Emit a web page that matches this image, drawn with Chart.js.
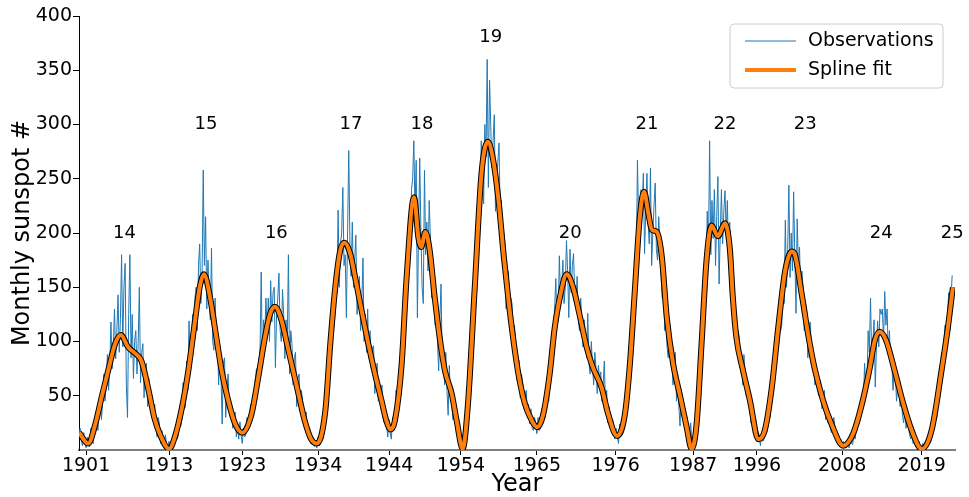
<!DOCTYPE html>
<html>
<head>
<meta charset="utf-8">
<script src="https://cdn.jsdelivr.net/npm/chart.js@4.4.0/dist/chart.umd.min.js"></script>
<style>
  html, body { margin: 0; padding: 0; background: #fff; }
  #wrap { width: 969px; height: 497px; position: relative; }
</style>
</head>
<body>
<div id="wrap"><canvas id="sunspotChart"></canvas></div>
<script>
// Monthly sunspot observations (6 values per year, starting 1900.0)
const obsStartYear = 1900;
const obsPerYear = 6;
const observations = [
  // 1900s
  18, 8, 26, 14, 20, 9,   4, 16, 8, 2, 12, 6,   3, 20, 10, 6, 27, 15,   36, 18, 40, 50, 28, 45,
  70, 45, 60, 88, 55, 78,   118, 75, 95, 130, 84, 110,   143, 90, 120, 180, 95, 150,
  172, 60, 30, 125, 180, 85,   125, 66, 100, 110, 70, 98,   150, 62, 90, 98, 48, 75,
  // 1910s
  80, 40, 66, 52, 35, 50,   28, 42, 20, 12, 30, 24,   6, 18, 10, 2, 14, 5,   1, 8, 3, 0, 12, 4,
  5, 24, 10, 14, 40, 22,   28, 62, 38, 40, 82, 55,   119, 70, 90, 125, 98, 140,
  150, 110, 170, 190, 135, 160,   258, 170, 215, 130, 175, 140,   120, 186, 100, 92, 140, 110,
  // 1920s
  110, 60, 95, 70, 24, 80,   85, 30, 55, 70, 38, 45,   42, 20, 30, 35, 12, 22,   10, 26, 14, 6, 20, 12,
  14, 30, 20, 24, 42, 35,   50, 38, 65, 75, 58, 80,   92, 164, 80, 120, 105, 140,
  110, 140, 100, 156, 118, 145,   150, 76, 125, 140, 163, 110,   100, 148, 125, 84, 120, 95,
  // 1930s
  180, 70, 110, 98, 60, 85,   90, 40, 65, 70, 38, 55,   45, 22, 30, 35, 14, 20,   20, 6, 10, 12, 3, 8,
  2, 12, 4, 5, 20, 10,   18, 45, 30, 40, 80, 70,   95, 140, 110, 120, 160, 145,
  221, 150, 190, 200, 242, 170,   180, 122, 200, 276, 190, 160,   210, 150, 175, 198, 125, 140,
  // 1940s
  160, 110, 135, 177, 100, 125,   90, 130, 85, 110, 75, 95,   96, 52, 70, 80, 45, 60,   38, 60, 30, 25, 40, 22,
  12, 28, 16, 10, 30, 18,   20, 55, 35, 40, 85, 65,   105, 130, 120, 160, 145, 175,
  210, 180, 240, 250, 285, 220,   267, 122, 200, 269, 200, 150,   135, 258, 180, 210, 165, 230,
  // 1950s
  195, 140, 170, 160, 115, 135,   100, 73, 120, 153, 80, 95,   60, 90, 55, 32, 78, 48,   45, 28, 35, 40, 15, 25,
  5, 18, 3, 1, 10, 4,   8, 30, 20, 48, 95, 70,   135, 118, 160, 190, 220, 200,
  230, 285, 250, 227, 300, 270,   360, 242, 341, 300, 260, 285,   309, 220, 250, 265, 283, 215,
  // 1960s
  230, 175, 200, 190, 130, 160,   165, 110, 140, 135, 90, 115,   100, 65, 85, 82, 48, 70,   62, 38, 50, 55, 30, 42,
  24, 38, 20, 18, 30, 25,   15, 30, 18, 20, 38, 26,   48, 30, 55, 62, 45, 75,
  98, 75, 110, 130, 158, 115,   120, 179, 140, 150, 175, 135,   150, 193, 165, 122, 185, 145,
  // 1970s
  170, 181, 140, 130, 160, 120,   110, 140, 120, 95, 120, 105,   85, 126, 80, 70, 100, 78,   60, 90, 75, 52, 78, 65,
  72, 45, 60, 82, 40, 55,   25, 40, 30, 18, 28, 22,   10, 20, 12, 6, 24, 16,
  15, 35, 22, 28, 60, 45,   95, 75, 100, 150, 125, 140,   170, 267, 210, 200, 240, 225,
  // 1980s
  255, 181, 220, 255, 210, 190,   260, 170, 200, 225, 246, 185,   175, 215, 190, 160, 140, 170,   110, 150, 95, 85, 117, 100,
  100, 60, 80, 90, 45, 70,   40, 22, 55, 48, 30, 38,   18, 30, 14, 12, 25, 6,
  8, 18, 12, 30, 38, 55,   105, 80, 120, 135, 165, 150,   220, 180, 285, 180, 230, 195,
  // 1990s
  240, 170, 215, 252, 153, 200,   240, 190, 220, 239, 200, 230,   175, 210, 150, 129, 150, 110,   120, 92, 110, 105, 75, 90,
  60, 88, 70, 50, 65, 45,   40, 25, 35, 30, 18, 28,   8, 14, 10, 4, 16, 8,
  10, 28, 15, 20, 45, 30,   65, 52, 75, 95, 80, 105,   95, 140, 110, 115, 165, 135,
  // 2000s
  212, 150, 185, 244, 159, 200,   165, 238, 180, 126, 213, 170,   187, 140, 165, 150, 110, 135,   130, 85, 110, 118, 95, 80,
  85, 60, 75, 70, 50, 65,   62, 38, 50, 55, 28, 40,   25, 35, 20, 16, 22, 30,
  20, 10, 16, 14, 5, 10,   4, 8, 3, 2, 6, 3,   2, 12, 6, 5, 18, 10,
  // 2010s
  20, 32, 24, 28, 48, 36,   45, 80, 55, 62, 110, 90,   140, 85, 100, 120, 58, 95,   119, 95, 130, 125, 130, 100,
  146, 115, 130, 90, 110, 80,   80, 55, 70, 70, 45, 60,   56, 40, 50, 32, 25, 38,
  20, 30, 22, 14, 10, 18,   6, 10, 4, 2, 4, 8,   4, 1, 6, 2, 0, 3,
  // 2020s
  8, 14, 6, 8, 26, 18,   25, 40, 30, 55, 45, 70,   90, 70, 100, 115, 100, 120,   145, 110, 140, 161
];

// Spline fit knots (year, value)
const splineYears = [
  1900.5, 1901.8, 1902.8, 1903.7, 1904.6, 1905.6, 1906.4, 1907.4, 1908.6, 1909.3,
  1910.3, 1911.1, 1912.0, 1913.2, 1914.0, 1915.0, 1915.9, 1916.8, 1917.5, 1918.1,
  1918.95, 1919.7, 1920.6, 1921.5, 1922.5, 1923.5, 1924.8, 1925.75, 1926.7, 1927.4,
  1928.1, 1929.05, 1930.0, 1931.2, 1932.3, 1933.2, 1934.0, 1935.2, 1935.9, 1936.6,
  1937.3, 1937.9, 1938.7, 1939.4, 1940.3, 1941.25, 1942.2, 1943.1, 1943.8, 1944.4,
  1945.0, 1945.95, 1946.65, 1947.7, 1948.3, 1948.7, 1949.3, 1949.9, 1950.6, 1951.3,
  1952.05, 1953.0, 1953.7, 1954.55, 1955.3, 1956.25, 1957.2, 1958.1, 1958.85, 1959.6,
  1960.3, 1961.0, 1961.7, 1962.4, 1963.3, 1964.3, 1965.05, 1965.9, 1966.8, 1967.5,
  1968.25, 1969.2, 1970.1, 1971.1, 1972.0, 1972.9, 1974.1, 1975.05, 1976.3, 1977.4,
  1978.1, 1978.8, 1979.5, 1980.1, 1980.7, 1981.2, 1981.9, 1982.6, 1983.3, 1984.2,
  1985.2, 1986.1, 1986.8, 1987.5, 1988.2, 1988.9, 1989.6, 1990.5, 1991.5, 1992.2,
  1992.6, 1993.1, 1994.05, 1995.0, 1996.2, 1997.1, 1998.1, 1999.0, 2000.0, 2000.9,
  2001.3, 2002.3, 2003.2, 2004.1, 2005.3, 2006.5, 2008.15, 2009.55, 2010.7, 2011.9,
  2012.6, 2013.3, 2014.2, 2015.4, 2016.6, 2017.8, 2019.2, 2020.6, 2022.0, 2022.9,
  2023.6
];
const splineValues = [
  16, 6, 24, 49, 73, 98, 106, 95, 88, 82,
  55, 30, 13, 1, 12, 39, 73, 117, 150, 162,
  141, 110, 73, 46, 24, 16, 33, 67, 104, 125,
  132, 119, 92, 58, 27, 10, 6, 36, 98, 150,
  184, 191, 181, 159, 129, 98, 70, 46, 27, 19,
  27, 79, 159, 233, 196, 187, 201, 184, 141, 104,
  73, 52, 27, 1, 43, 150, 255, 284, 267, 230,
  181, 138, 101, 70, 43, 27, 21, 33, 70, 112,
  141, 162, 150, 122, 95, 76, 58, 33, 13, 33,
  79, 147, 215, 238, 218, 203, 201, 178, 122, 79,
  49, 21, 1, 24, 98, 175, 207, 197, 209, 184,
  141, 104, 73, 46, 10, 18, 58, 113, 166, 183,
  181, 144, 107, 76, 46, 24, 4, 15, 40, 76,
  101, 109, 101, 73, 43, 18, 1, 18, 73, 113,
  150
];

// Solar cycle numbers and where they are written
const cycleNames = ["14", "15", "16", "17", "18", "19", "20", "21", "22", "23", "24", "25"];
const cycleYears = [1906.9, 1918.4, 1928.3, 1938.8, 1948.8, 1958.5, 1969.7, 1980.5, 1991.5, 2002.8, 2013.5, 2023.5];
const cycleLabelValues = [200, 300, 200, 300, 300, 380, 200, 300, 300, 300, 200, 200];

// Axis ticks
const xTickYears = [1901.5, 1913.2, 1923.5, 1934.2, 1944.2, 1954.3, 1965.0, 1976.1, 1987.0, 1996.0, 2008.0, 2019.2];
const xTickLabels = ["1901", "1913", "1923", "1934", "1944", "1954", "1965", "1976", "1987", "1996", "2008", "2019"];
const yTicks = [50, 100, 150, 200, 250, 300, 350, 400];

Chart.defaults.font.family = "'DejaVu Sans', sans-serif";
Chart.defaults.color = "#000";

const obsPoints = observations.map((v, i) => ({ x: obsStartYear + i / obsPerYear, y: v }));
const splinePoints = splineYears.map((yr, i) => ({ x: yr, y: splineValues[i] }));

const cycleLabelPlugin = {
  id: "cycleLabels",
  afterDatasetsDraw(chart) {
    const { ctx, scales } = chart;
    ctx.save();
    ctx.font = "18px 'DejaVu Sans'";
    ctx.fillStyle = "#000";
    ctx.textAlign = "center";
    ctx.textBaseline = "middle";
    cycleNames.forEach((name, i) => {
      ctx.fillText(name, scales.x.getPixelForValue(cycleYears[i]), scales.y.getPixelForValue(cycleLabelValues[i]));
    });
    ctx.restore();
  },
};

const legendBoxPlugin = {
  id: "legendBox",
  afterDraw(chart) {
    const { ctx, chartArea } = chart;
    const items = chart.data.datasets.filter((d) => d.label);
    const w = 213, h = 64;
    const x0 = chartArea.right - 12 - w;
    const y0 = chartArea.top + 8;
    ctx.save();
    ctx.beginPath();
    ctx.roundRect(x0, y0, w, h, 4);
    ctx.fillStyle = "rgba(255,255,255,0.8)";
    ctx.fill();
    ctx.strokeStyle = "#cccccc";
    ctx.lineWidth = 1;
    ctx.stroke();
    ctx.font = "19px 'DejaVu Sans'";
    ctx.textBaseline = "middle";
    ctx.textAlign = "left";
    items.forEach((d, i) => {
      const y = y0 + 17 + i * 29;
      ctx.beginPath();
      ctx.moveTo(x0 + 15, y);
      ctx.lineTo(x0 + 66, y);
      ctx.strokeStyle = d.borderColor;
      ctx.lineWidth = d.borderWidth;
      ctx.stroke();
      ctx.fillStyle = "#000";
      ctx.fillText(d.label, x0 + 78, y);
    });
    ctx.restore();
  },
};

const ctx = document.getElementById("sunspotChart").getContext("2d");
new Chart(ctx, {
  type: "line",
  data: {
    datasets: [
      {
        label: "Observations",
        data: obsPoints,
        borderColor: "#1f77b4",
        borderWidth: 1,
        pointRadius: 0,
        tension: 0,
        order: 3,
      },
      {
        label: "",
        data: splinePoints,
        borderColor: "#000000",
        borderWidth: 6,
        pointRadius: 0,
        cubicInterpolationMode: "monotone",
        order: 2,
      },
      {
        label: "Spline fit",
        data: splinePoints,
        borderColor: "#ff7f0e",
        borderWidth: 4,
        pointRadius: 0,
        cubicInterpolationMode: "monotone",
        order: 1,
      },
    ],
  },
  options: {
    responsive: true,
    maintainAspectRatio: false,
    animation: false,
    layout: { padding: { top: 16, right: 14, left: 0, bottom: 0 } },
    plugins: {
      legend: { display: false },
      tooltip: { enabled: false },
    },
    scales: {
      x: {
        type: "linear",
        min: 1900.5,
        max: 2023.9,
        afterBuildTicks: (s) => { s.ticks = xTickYears.map((v) => ({ value: v })); },
        afterFit: (s) => { s.height = 47; },
        ticks: {
          autoSkip: false,
          maxRotation: 0,
          padding: 2,
          font: { size: 19, lineHeight: 1 },
          callback: (v, i) => xTickLabels[i],
        },
        grid: { drawOnChartArea: false, drawTicks: true, tickLength: 5, color: "#000" },
        border: { color: "#808080", width: 2 },
        title: { display: true, text: "Year", font: { size: 24, lineHeight: 1 }, padding: { top: -3, bottom: 0 } },
      },
      y: {
        min: 0,
        max: 400,
        afterBuildTicks: (s) => { s.ticks = yTicks.map((v) => ({ value: v })); },
        afterFit: (s) => { s.width = 79; },
        ticks: { padding: 1, font: { size: 19 } },
        grid: { drawOnChartArea: false, drawTicks: true, tickLength: 6, color: "#000" },
        border: { color: "#000", width: 1 },
        title: { display: true, text: "Monthly sunspot #", font: { size: 24, lineHeight: 1 }, padding: { top: 11, bottom: 0 } },
      },
    },
  },
  plugins: [cycleLabelPlugin, legendBoxPlugin],
});
</script>
</body>
</html>
